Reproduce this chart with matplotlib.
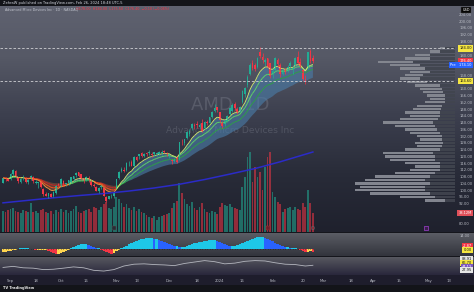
import matplotlib
matplotlib.use("Agg")
import matplotlib.pyplot as plt
from matplotlib.collections import LineCollection
from matplotlib.colors import to_rgb
from matplotlib import transforms
import numpy as np
import pandas as pd

W, H = 474, 292

# AMD daily bars, Aug 29 2023 .. Feb 26 2024
opens = [104.5, 107.0, 106.5, 106.5, 109.5, 111.5, 107.0, 105.0, 107.0, 107.5,
         105.0, 106.5, 108.0, 104.5, 104.0, 105.0, 100.5, 97.5, 96.5, 97.5,
         96.5, 98.5, 103.5, 102.5, 105.5, 103.0, 104.0, 104.5, 106.5, 109.0,
         110.5, 109.5, 107.0, 106.0, 107.0, 105.5, 103.0, 102.0, 99.5, 102.0,
         101.5, 96.0, 95.0, 97.0, 96.5, 101.5, 107.0, 111.5, 112.0, 112.0,
         116.5, 116.5, 114.5, 119.5, 120.0, 122.0, 120.5, 122.0, 122.0, 121.5,
         121.5, 121.5, 121.5, 122.0, 123.0, 122.0, 120.5, 118.0, 117.0, 119.5,
         118.5, 128.0, 128.0, 131.0, 133.5, 137.0, 138.5, 139.0, 137.5, 139.5,
         137.0, 140.5, 140.0, 143.5, 147.0, 149.0, 146.0, 140.0, 139.0, 141.0,
         145.0, 147.0, 151.0, 148.0, 147.0, 152.0, 157.0, 162.0, 168.5, 175.0,
         174.0, 173.0, 182.0, 179.0, 176.0, 178.0, 175.0, 169.0, 171.0, 177.0,
         174.0, 169.0, 171.0, 170.5, 173.5, 172.0, 174.0, 179.0, 176.0, 171.0,
         166.0, 172.5, 182.5, 178.0]
highs = [107.5, 107.8, 107.5, 110.0, 112.5, 112.0, 108.0, 107.5, 109.0, 108.0,
         106.5, 109.0, 108.5, 106.0, 105.0, 105.5, 101.5, 99.0, 98.5, 98.5,
         99.5, 103.0, 104.5, 107.0, 106.0, 104.5, 106.0, 108.0, 108.5, 111.0,
         110.8, 109.8, 107.2, 108.5, 108.5, 106.5, 104.5, 102.5, 102.0, 103.0,
         102.0, 96.8, 96.5, 98.0, 98.6, 106.8, 111.5, 113.5, 113.5, 116.5,
         117.3, 118.0, 120.0, 120.5, 121.5, 122.5, 122.0, 122.5, 124.0, 122.5,
         122.5, 122.5, 123.0, 123.5, 124.0, 122.5, 121.5, 118.5, 119.0, 120.0,
         128.5, 130.0, 130.5, 135.0, 136.0, 140.0, 139.5, 141.0, 139.5, 142.0,
         141.0, 141.5, 143.5, 147.0, 151.0, 149.5, 146.5, 141.0, 142.0, 144.5,
         149.0, 151.5, 152.0, 149.5, 150.0, 159.5, 161.0, 168.0, 175.0, 177.0,
         175.5, 179.0, 184.5, 181.0, 178.5, 178.5, 175.5, 172.5, 179.0, 178.5,
         175.0, 172.0, 172.5, 174.0, 176.5, 174.0, 179.0, 182.5, 178.0, 172.0,
         168.0, 182.0, 183.5, 180.0]
lows = [104.0, 105.5, 105.5, 106.0, 109.0, 107.0, 104.0, 104.5, 106.0, 104.5,
        103.5, 106.0, 104.5, 103.5, 101.5, 101.5, 96.5, 96.5, 95.5, 96.0,
        96.0, 98.0, 102.5, 102.0, 102.5, 102.5, 103.0, 104.0, 105.5, 108.0,
        108.0, 106.0, 104.5, 105.5, 105.0, 102.5, 102.0, 99.5, 98.5, 100.5,
        96.5, 93.1, 94.5, 95.5, 95.5, 101.0, 106.5, 110.5, 110.5, 111.5,
        114.5, 114.2, 114.0, 117.5, 118.5, 119.5, 119.5, 120.5, 121.0, 119.5,
        120.0, 120.5, 121.0, 121.0, 122.0, 120.5, 119.0, 115.5, 116.5, 116.3,
        118.0, 126.5, 126.5, 130.5, 132.0, 135.5, 136.5, 137.0, 136.5, 134.5,
        136.5, 138.5, 139.5, 142.5, 146.5, 146.0, 140.0, 137.0, 138.0, 140.5,
        144.5, 146.5, 147.5, 145.0, 146.0, 151.5, 155.0, 161.0, 168.0, 171.0,
        170.5, 172.5, 178.5, 175.5, 173.5, 172.5, 166.5, 166.5, 170.5, 173.0,
        167.0, 168.0, 169.0, 170.0, 172.0, 169.0, 173.5, 174.5, 172.5, 164.5,
        163.0, 171.5, 175.5, 175.5]
closes = [107.2, 106.5, 105.7, 109.4, 111.8, 108.0, 105.2, 106.6, 107.7, 104.8,
          106.0, 108.5, 105.2, 105.0, 104.6, 101.7, 97.5, 96.7, 98.2, 96.2,
          99.2, 102.4, 102.8, 106.6, 103.0, 104.4, 105.8, 107.8, 108.3, 110.3,
          108.5, 107.0, 105.2, 108.0, 106.5, 102.8, 102.6, 99.6, 101.4, 102.3,
          96.6, 93.7, 96.5, 97.3, 98.5, 106.4, 110.9, 112.3, 111.4, 116.3,
          116.8, 114.5, 119.9, 117.9, 121.2, 120.5, 121.5, 121.4, 122.6, 121.1,
          122.3, 122.2, 122.5, 122.7, 122.3, 121.2, 121.4, 117.4, 118.3, 116.4,
          128.3, 127.7, 130.0, 134.3, 135.2, 139.0, 137.7, 138.5, 138.6, 134.8,
          140.2, 139.6, 143.4, 146.4, 148.8, 147.4, 141.5, 138.0, 141.0, 144.0,
          148.5, 150.5, 148.5, 146.0, 149.5, 158.7, 160.2, 167.2, 174.2, 172.5,
          171.5, 178.5, 179.5, 177.0, 177.3, 173.0, 167.7, 170.5, 178.0, 174.5,
          168.5, 171.0, 170.0, 173.0, 175.5, 172.5, 178.5, 175.5, 173.5, 165.7,
          164.5, 181.9, 176.5, 176.4]
volumes = [42, 40, 44, 46, 48, 42, 40, 38, 44, 42, 40, 58,
           40, 42, 38, 44, 46, 40, 38, 42, 36, 44, 40, 46,
           40, 44, 38, 42, 46, 52, 40, 38, 42, 44, 46, 40, 50, 48, 44, 50,
           56, 60, 48, 46, 50, 70,
           66, 58, 50, 56, 48, 44, 50, 42, 46, 40, 38,
           34, 30, 28, 32, 24, 30, 32, 34, 36, 38,
           48, 58, 62, 98, 78, 66,
           56, 52, 60, 48, 44, 50, 58, 46, 40, 38, 42, 40, 36, 50,
           58, 54, 52, 56, 50, 48, 46, 44, 90,
           110, 150, 160, 100, 130, 110, 120, 84, 130, 150, 160, 80, 70, 60, 56,
           40, 46, 48, 50, 44, 50, 46, 44, 58, 50, 84, 58, 38]

# 200-day SMA, read at a few bars
sma_idx = [0, 10, 20, 30, 40, 50, 60, 70, 80, 90, 100, 110, 123]
sma_vals = [92.5, 94.0, 95.5, 96.8, 98.0, 99.5, 101.3, 103.5, 106.3, 109.5, 112.8, 116.8, 122.6]

# momentum histogram (sub pane 1)
momentum = [-3, -3, -2, -2, -1, -1,
            0, 1, 1, 1, 1, 0, 0, -1, -1, -1, -1, -1,
            -2, -3, -4, -5, -5, -4, -3, -2, -1,
            1, 2, 3, 4, 5, 5, 5, 4, 3, 2, 1, 1,
            -1, -2, -3, -4, -5, -4, -2, -1,
            1, 2, 3, 5, 6, 7, 8, 9, 10, 10, 11, 11, 11, 10, 10, 9, 8, 7, 6, 5, 4, 3,
            3, 2, 2, 2, 3, 4,
            5, 6, 6, 7, 7, 8, 8, 9, 9, 9, 8, 7, 6, 5,
            4, 3, 3, 3, 4, 5, 6, 7,
            8, 9, 10, 11, 12, 12, 12, 11, 10, 9, 8, 6, 5, 4,
            3, 2, 2, 1, 1, 1, 0,
            -1, -2, -3, -3, -2, -3]

# RSI (sub pane 2)
rsi_idx = list(range(0, 121, 4)) + [123]
rsi_vals = [42, 48, 40, 38, 30, 32, 38, 45, 40, 26, 22, 30, 50, 60, 62, 58,
            56, 52, 64, 72, 80, 74, 62, 66, 76, 80, 78, 68, 60, 58, 50, 54]

# visible-range volume profile
vp_price = list(range(94, 185, 2))
vp_total = [300, 550, 850, 1000, 950, 1000, 900, 800, 600, 450,
            400, 500, 650, 700, 720, 500, 380, 400, 350, 380,
            450, 500, 600, 720, 550, 450, 500, 420, 380, 300,
            250, 280, 320, 350, 400, 480, 550, 500, 450, 550,
            650, 770, 500, 400, 250, 150]
vp_light = [200, 350, 600, 700, 650, 750, 600, 550, 400, 300,
            250, 350, 450, 500, 500, 350, 250, 280, 220, 250,
            300, 320, 400, 500, 380, 300, 350, 280, 250, 200,
            150, 180, 200, 220, 250, 200, 200, 180, 200, 250,
            300, 350, 250, 150, 100, 50]

tick_idx = [3, 13, 23, 33, 45, 53, 66, 77, 86, 95, 107, 119, 127, 138, 147, 157, 169, 177]
tick_lab = ["Sep", "18", "Oct", "16", "Nov", "13", "Dec", "18", "2024", "16",
            "Feb", "20", "Mar", "18", "Apr", "15", "May", "13"]

o = np.array(opens); h = np.array(highs); l = np.array(lows); c = np.array(closes)
n = len(c)
x = np.arange(n)
XL = (-1.19, 179.4)
UP, DN = "#22ab94", "#f23645"

fig = plt.figure(figsize=(W / 100, H / 100), dpi=100)


def ramp(c0, c1, k):
    a, b = np.array(to_rgb(c0)), np.array(to_rgb(c1))
    t = np.linspace(0, 1, k)[:, None]
    return a + (b - a) * t


bg = np.vstack([
    ramp("#131419", "#131419", 6),
    ramp("#5f6270", "#565966", 50),
    ramp("#565966", "#3c3f4e", 60),
    ramp("#3c3f4e", "#282b38", 60),
    ramp("#282b38", "#1f212d", 56),
    ramp("#15161c", "#15161c", 1),
    ramp("#5a5c64", "#33353d", 23),
    ramp("#15161c", "#15161c", 1),
    ramp("#56575f", "#2a283c", 18),
    ramp("#1e1d2c", "#1e1d2c", 10),
    ramp("#131419", "#131419", 7),
])
bgax = fig.add_axes([0, 0, 1, 1])
bgax.imshow(bg[:, None, :], aspect="auto", extent=[0, 1, 0, 1])
bgax.axis("off")


def pane(top, bottom):
    a = fig.add_axes([0, 1 - bottom / H, 455 / W, (bottom - top) / H])
    a.set_facecolor("none")
    for s in a.spines.values():
        s.set_visible(False)
    a.set_xticks([])
    a.set_yticks([])
    return a


ax_vol = pane(6, 232)
ax_vp = pane(6, 232)
ax = pane(6, 232)
ax_mom = pane(233, 256)
ax_rsi = pane(257, 275)

PMIN, PMAX = 75.25, 209.0

# volume overlay
up = c >= o
cols = np.where(up, UP, DN)
ax_vol.bar(x, volumes, width=0.7, color=cols, alpha=0.55, lw=0)
ax_vol.set_xlim(*XL)
ax_vol.set_ylim(0, 452)

# volume profile anchored at the price scale
ax_vp.barh(vp_price, vp_total, height=1.4, color="#41454f", alpha=0.9, lw=0)
ax_vp.barh(vp_price, vp_light, height=1.4, left=np.array(vp_total) - np.array(vp_light),
           color="#8f929b", alpha=0.85, lw=0)
ax_vp.set_xlim(4550, 0)
ax_vp.set_ylim(PMIN, PMAX)

# watermark
ax.text(0.505, 0.562, "AMD, 1D", transform=ax.transAxes, ha="center", va="center",
        fontsize=13, color="#a0a4b0", alpha=0.25, zorder=0)
ax.text(0.505, 0.451, "Advanced Micro Devices Inc", transform=ax.transAxes, ha="center",
        va="center", fontsize=6.6, color="#a0a4b0", alpha=0.25, zorder=0)

# EMA ribbon
cs = pd.Series(c)
e8 = cs.ewm(span=8, adjust=False).mean().values
e13 = cs.ewm(span=13, adjust=False).mean().values
e21 = cs.ewm(span=21, adjust=False).mean().values
e34 = cs.ewm(span=34, adjust=False).mean().values
bull = e8 >= e34
ax.fill_between(x, e8, e34, where=bull, interpolate=True, color="#4a7eab", alpha=0.6, lw=0)
ax.fill_between(x, e8, e34, where=~bull, interpolate=True, color="#8a4f36", alpha=0.6, lw=0)


def colored_line(y, state, c_up, c_dn, lw):
    pts = np.column_stack([x, y])
    segs = np.stack([pts[:-1], pts[1:]], axis=1)
    colors = [c_up if s else c_dn for s in state[1:]]
    ax.add_collection(LineCollection(segs, colors=colors, linewidths=lw))


fast = e8 >= e21
colored_line(e21, fast, "#2e9e48", "#c62828", 0.7)
colored_line(e13, fast, "#5fd068", "#f4511e", 0.7)
colored_line(e8, fast, "#d9ec6a", "#ffa040", 0.6)

ax.plot(sma_idx, sma_vals, color="#2b2bc8", lw=1.1)

# candles
ax.vlines(x, l, h, colors=cols, lw=0.5)
ax.bar(x, np.maximum(np.abs(c - o), 0.2), bottom=np.minimum(o, c), width=0.66,
       color=cols, lw=0)

for lvl in (184.0, 164.6):
    ax.axhline(lvl, color="#cfd0d4", lw=0.6, ls=(0, (3, 2.2)))

# event markers at the bottom of the price pane
ax.scatter([44], [77.6], marker="s", s=7, color="#2a2c34", edgecolors="#555", lw=0.3)
ax.scatter([105], [77.6], marker="s", s=7, color="#6e1d2a", edgecolors="#a33", lw=0.3)
ax.scatter([123], [77.6], marker="o", s=6, facecolors="none", edgecolors="#666", lw=0.4)
ax.scatter([168], [77.6], marker="s", s=9, facecolors="#3a1f4a", edgecolors="#a040d0", lw=0.5)

ax.set_xlim(*XL)
ax.set_ylim(PMIN, PMAX)
tags = [184.0, 176.4, 174.1, 164.6, 86.5]
yt = [v for v in range(80, 205, 4) if min(abs(v - t) for t in tags) > 2.6]
ax.set_yticks(yt)
ax.set_yticklabels([f"{v:.2f}" for v in yt])
ax.yaxis.tick_right()
ax.tick_params(axis="y", length=0, pad=3, labelsize=2.7, labelcolor="#b8bbc4")


def tag(a, val, text, fc, tc, xr=472):
    tr = transforms.blended_transform_factory(fig.transFigure, a.transData)
    a.text(xr / W, val, text, transform=tr, ha="right", va="center", fontsize=2.6,
           color=tc, bbox=dict(boxstyle="square,pad=0.35", fc=fc, ec="none"), clip_on=False)


tag(ax, 184.0, "184.00", "#f5e642", "#111")
tag(ax, 176.4, "176.40", "#f23645", "white")
tag(ax, 174.1, "Pre   174.10", "#2962ff", "white")
tag(ax, 164.6, "164.60", "#f5e642", "#111")
tag(ax_vol, volumes[-1], "38.12M", "#e0505a", "white")
fig.text(470 / W, 1 - 10 / H, "USD", ha="right", va="center", fontsize=2.5, color="white",
         bbox=dict(boxstyle="square,pad=0.4", fc="#050505", ec="#444", lw=0.3))

# momentum pane
mom = np.array(momentum, dtype=float)
prev = np.r_[mom[0], mom[:-1]]
mcols = np.where(mom >= 0, np.where(mom >= prev, "#1ec8e8", "#2962ff"),
                 np.where(mom < prev, "#f23645", "#ffd54f"))
ax_mom.bar(x, mom, width=1.0, color=mcols, lw=0)
ax_mom.scatter(x, np.zeros(n), s=0.12, color="#141414", lw=0)
ax_mom.set_xlim(*XL)
ax_mom.set_ylim(-7, 16)
tag(ax_mom, 3, "-2.87", "#f23645", "white")
tag(ax_mom, -1, "0.00", "#f5e642", "#111")
fig.text(470 / W, 1 - 236 / H, "14.00", ha="right", va="center", fontsize=2.6, color="#b8bbc4")

# RSI pane
ax_rsi.plot(rsi_idx, rsi_vals, color="#b4b6be", lw=0.6)
ax_rsi.set_xlim(*XL)
ax_rsi.set_ylim(0, 100)
tag(ax_rsi, 89, "88.91", "#e6e6e6", "#111")
tag(ax_rsi, 67, "66.70", "#f5e642", "#111")
tag(ax_rsi, 45, "44.12", "#7e57c2", "white")
tag(ax_rsi, 28, "27.95", "#e6e6e6", "#111")
ax_rsi.set_xticks(tick_idx)
ax_rsi.set_xticklabels(tick_lab)
ax_rsi.tick_params(axis="x", length=0, pad=2.6, labelsize=2.7, labelcolor="#b8bbc4")

# header / legend / footer
fig.text(3 / W, 1 - 3 / H, "ZehraW published on TradingView.com, Feb 26, 2024 18:48 UTC-5",
         va="center", fontsize=2.6, color="#d1d4dc")
fig.text(5 / W, 1 - 9.5 / H, "Advanced Micro Devices Inc · 1D · NASDAQ",
         va="center", fontsize=2.4, color="#c0c3cc")
fig.text(76 / W, 1 - 9.5 / H, "O178.00  H180.00  L175.50  C176.40  −0.10 (−0.06%)",
         va="center", fontsize=2.4, color="#f23645")
fig.text(3 / W, 1 - 288.5 / H, "TV TradingView", va="center", fontsize=2.6,
         color="#e8e8e8", fontweight="bold")

fig.savefig("out.png", dpi=100)
